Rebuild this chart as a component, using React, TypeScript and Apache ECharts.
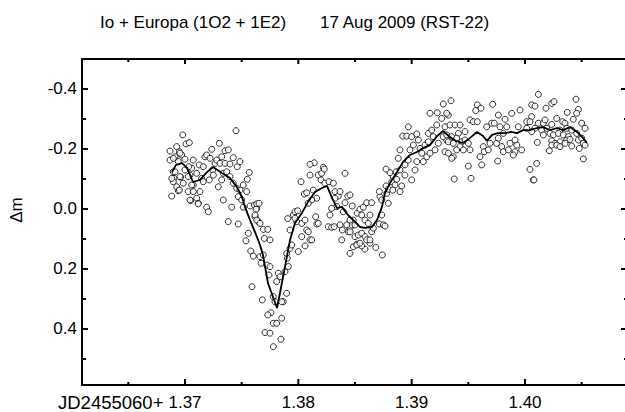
import React, { useEffect, useRef } from "react";
import * as echarts from "echarts";

// ---- Data ----
const titleLeft = "Io + Europa (1O2 + 1E2)";
const titleRight = "17 Aug 2009 (RST-22)";
const xPrefix = "JD2455060+";
const yName = "\u0394m";

const X_MIN = 1.360912;
const X_MAX = 1.408912;
const Y_MIN = -0.5;
const Y_MAX = 0.5867;

const xMajorTicks = [1.37, 1.38, 1.39, 1.4];
const xMinorTicks = [1.365, 1.375, 1.385, 1.395, 1.405];
const yMajorTicks = [-0.4, -0.2, 0.0, 0.2, 0.4];
const yMinorTicks = [-0.3, -0.1, 0.1, 0.3, 0.5];

const obsEarly: [number, number][] = [
  [1.3745, -0.261], [1.3698, -0.247], [1.36868, -0.193], [1.36927, -0.208], [1.37009, -0.217], [1.37038, -0.221],
  [1.3695, -0.191], [1.36912, -0.174], [1.36971, -0.18], [1.37, -0.166], [1.36941, -0.158], [1.36897, -0.124],
  [1.36903, -0.102], [1.36897, -0.091], [1.36927, -0.074], [1.36941, -0.061], [1.36883, -0.043], [1.36985, -0.086],
  [1.37029, -0.058], [1.37073, -0.058], [1.3705, -0.028], [1.37103, -0.036], [1.37132, -0.058], [1.37117, -0.019],
  [1.37191, -0.006], [1.37206, 0.009], [1.36962, -0.106], [1.37, -0.13], [1.37044, -0.113], [1.37059, -0.136],
  [1.37103, -0.119], [1.37126, -0.147], [1.37147, -0.102], [1.37161, -0.091], [1.37073, -0.08], [1.37176, -0.174],
  [1.37191, -0.18], [1.37221, -0.169], [1.37236, -0.199], [1.37265, -0.152], [1.37244, -0.13], [1.3728, -0.163],
  [1.37303, -0.219], [1.37324, -0.174], [1.37353, -0.194], [1.37382, -0.197], [1.37309, -0.152], [1.37353, -0.152],
  [1.37397, -0.15], [1.37426, -0.171], [1.37461, -0.141], [1.37485, -0.158], [1.37338, -0.119], [1.37368, -0.124],
  [1.37397, -0.108], [1.37324, -0.097], [1.37294, -0.074], [1.37338, -0.03], [1.37412, -0.006], [1.37382, 0.042],
  [1.37426, -0.086], [1.37456, -0.069], [1.37485, -0.063], [1.3747, -0.041], [1.37514, -0.08], [1.3755, -0.099],
  [1.37567, -0.122], [1.37544, -0.058], [1.375, -0.03], [1.37514, -0.006], [1.37574, -0.01], [1.37612, -0.013],
  [1.37633, -0.002], [1.37618, 0.026], [1.37647, 0.042], [1.37559, 0.081], [1.37538, 0.106], [1.3758, 0.14],
  [1.37603, 0.157], [1.37591, 0.259], [1.3747, 0.05], [1.3725, -0.113], [1.37214, -0.097], [1.37161, -0.141],
  [1.37073, -0.163], [1.37033, -0.141], [1.36868, -0.163], [1.36897, -0.169], [1.36883, -0.102], [1.3695, -0.063],
  [1.36912, -0.124], [1.36956, -0.108], [1.37029, -0.108], [1.37059, -0.08], [1.37044, -0.03], [1.37117, -0.017],
  [1.36956, -0.186],
];

const obsDip: [number, number][] = [
  [1.37633, -0.017], [1.37653, -0.019], [1.37627, 0.001], [1.37618, 0.02], [1.37633, 0.037], [1.37662, 0.048],
  [1.37691, 0.068], [1.3773, 0.068], [1.377, 0.098], [1.3775, 0.103], [1.37662, 0.159], [1.37671, 0.181],
  [1.37691, 0.153], [1.37721, 0.187], [1.3775, 0.192], [1.37741, 0.22], [1.37823, 0.214], [1.37838, 0.226],
  [1.37809, 0.242], [1.37682, 0.303], [1.37779, 0.292], [1.37794, 0.309], [1.37759, 0.346], [1.3773, 0.353],
  [1.37779, 0.381], [1.37809, 0.381], [1.37853, 0.364], [1.37706, 0.412], [1.3775, 0.414], [1.37847, 0.434],
  [1.37779, 0.459], [1.37867, 0.309], [1.37897, 0.281], [1.37853, 0.309], [1.37882, 0.209], [1.37912, 0.192],
  [1.37903, 0.164], [1.37897, 0.148], [1.37927, 0.131], [1.37942, 0.12], [1.37927, 0.07], [1.37906, 0.032],
  [1.37956, 0.02], [1.37971, 0.009], [1.37994, 0.006], [1.37986, 0.042], [1.3803, 0.048], [1.38059, 0.037],
  [1.38074, 0.07], [1.38088, 0.076], [1.38103, 0.103], [1.3803, 0.092], [1.38, 0.142], [1.38059, 0.123],
  [1.38118, 0.103], [1.38024, -0.091], [1.38053, -0.05], [1.38074, -0.054], [1.38103, -0.113], [1.38141, -0.154],
  [1.38103, -0.149], [1.38176, -0.113], [1.38206, -0.119], [1.3822, -0.139], [1.38229, -0.133], [1.382, -0.097],
  [1.38235, -0.086], [1.38271, -0.091], [1.38309, -0.086], [1.38324, -0.058], [1.38353, -0.043], [1.38368, -0.058],
  [1.38324, -0.036], [1.38339, -0.008], [1.38294, -0.002], [1.38279, 0.02], [1.38264, 0.059], [1.38294, 0.061],
  [1.38317, 0.059], [1.38368, 0.053], [1.38388, 0.07], [1.38383, 0.103], [1.38441, 0.076], [1.38456, 0.064],
  [1.38471, 0.053], [1.38485, 0.037], [1.38456, 0.148], [1.38485, 0.126], [1.38412, -0.119], [1.38436, -0.043],
  [1.38412, -0.021], [1.38397, 0.009], [1.38476, -0.01], [1.38427, 0.053], [1.38153, 0.026], [1.38162, 0.05],
  [1.38176, 0.048], [1.38132, -0.063], [1.38162, -0.036], [1.38118, -0.03], [1.38088, -0.019], [1.37971, 0.031],
];

const obsRise: [number, number][] = [
  [1.3852, 0.117], [1.38588, 0.134], [1.38632, 0.114], [1.38683, 0.128], [1.38741, 0.153], [1.38559, 0.123],
  [1.38456, -0.047], [1.38456, 0.037], [1.38456, 0.076], [1.385, 0.053], [1.3852, 0.014], [1.38544, 0.001],
  [1.38573, -0.006], [1.38603, -0.021], [1.38647, -0.021], [1.38559, 0.02], [1.38588, 0.037], [1.38632, 0.02],
  [1.38617, 0.048], [1.385, 0.092], [1.38529, 0.087], [1.38559, 0.081], [1.38588, 0.092], [1.38603, 0.103],
  [1.38515, 0.12], [1.38544, 0.114], [1.38632, 0.103], [1.38647, 0.076], [1.38662, 0.064], [1.38715, 0.05],
  [1.3875, 0.053], [1.38765, 0.057], [1.38736, 0.02], [1.38721, -0.041], [1.38736, -0.03], [1.38715, -0.058],
  [1.3878, -0.052], [1.38794, -0.019], [1.38774, -0.077], [1.38794, -0.066], [1.38824, -0.091], [1.38838, -0.108],
  [1.38868, -0.099], [1.38853, -0.08], [1.38833, -0.063], [1.38897, -0.058], [1.38912, -0.077], [1.38809, -0.121],
  [1.38774, -0.133], [1.38862, -0.124], [1.38897, -0.13], [1.38882, -0.169], [1.38897, -0.197], [1.38941, -0.147],
  [1.38941, -0.113], [1.3897, -0.163], [1.38985, -0.197], [1.3897, -0.274], [1.38921, -0.243], [1.38956, -0.243],
  [1.39, -0.241], [1.39045, -0.25], [1.39059, -0.23], [1.39015, -0.213], [1.39074, -0.202], [1.39089, -0.186],
  [1.39118, -0.213], [1.39147, -0.224], [1.39147, -0.252], [1.39177, -0.263], [1.39221, -0.28], [1.39265, -0.302],
  [1.39323, -0.313], [1.39162, -0.319], [1.39226, -0.321], [1.39279, -0.35], [1.39206, -0.197], [1.39235, -0.219],
  [1.39294, -0.191], [1.39103, -0.158], [1.39133, -0.174], [1.39162, -0.186], [1.39045, -0.158], [1.3903, -0.13],
  [1.39, -0.097], [1.39309, -0.23], [1.39279, -0.241], [1.39191, -0.241],
];

const obsPlateau: [number, number][] = [
  [1.39347, -0.361], [1.39309, -0.319], [1.39294, -0.274], [1.39338, -0.28], [1.39382, -0.28], [1.39427, -0.28],
  [1.39412, -0.252], [1.39471, -0.258], [1.39515, -0.297], [1.39565, -0.328], [1.39579, -0.347], [1.39612, -0.336],
  [1.39715, -0.349], [1.39544, -0.291], [1.39579, -0.291], [1.39662, -0.274], [1.39706, -0.286], [1.39729, -0.286],
  [1.39765, -0.313], [1.3978, -0.274], [1.39824, -0.299], [1.39883, -0.319], [1.39956, -0.33], [1.39941, -0.274],
  [1.40015, -0.291], [1.40059, -0.347], [1.39309, -0.247], [1.39323, -0.224], [1.39353, -0.241], [1.39367, -0.219],
  [1.39397, -0.236], [1.39442, -0.224], [1.39471, -0.23], [1.395, -0.219], [1.39427, -0.208], [1.39323, -0.186],
  [1.39367, -0.174], [1.39353, -0.169], [1.39397, -0.197], [1.39456, -0.197], [1.39515, -0.197], [1.395, -0.143],
  [1.39376, -0.1], [1.39524, -0.102], [1.39603, -0.174], [1.39618, -0.147], [1.39632, -0.208], [1.39641, -0.191],
  [1.39676, -0.197], [1.39691, -0.219], [1.3975, -0.219], [1.39765, -0.236], [1.39795, -0.208], [1.39809, -0.191],
  [1.39853, -0.197], [1.39868, -0.219], [1.39912, -0.191], [1.39927, -0.213], [1.39971, -0.197], [1.39897, -0.18],
  [1.39912, -0.23], [1.39759, -0.16], [1.39809, -0.252], [1.39839, -0.274], [1.40015, -0.269], [1.40044, -0.132],
  [1.40073, -0.097], [1.40118, -0.382], [1.40088, -0.343], [1.40185, -0.336], [1.40236, -0.352], [1.40256, -0.358],
  [1.4045, -0.366], [1.40471, -0.332], [1.40456, -0.319], [1.40373, -0.322], [1.40059, -0.308], [1.40044, -0.291],
  [1.40118, -0.286], [1.40162, -0.286], [1.40177, -0.297], [1.4028, -0.302], [1.40236, -0.282], [1.40333, -0.291],
  [1.40353, -0.286], [1.40426, -0.299], [1.405, -0.286], [1.4053, -0.269], [1.40088, -0.269], [1.40059, -0.258],
  [1.40147, -0.263], [1.40192, -0.269], [1.40309, -0.263], [1.40368, -0.269], [1.40412, -0.263], [1.40456, -0.252],
  [1.40162, -0.247], [1.40221, -0.252], [1.4025, -0.247], [1.40294, -0.252], [1.40338, -0.247], [1.40382, -0.241],
  [1.40471, -0.23], [1.405, -0.236], [1.40515, -0.219], [1.4053, -0.213], [1.40109, -0.222], [1.40236, -0.227],
  [1.40265, -0.219], [1.40309, -0.224], [1.40368, -0.23], [1.40397, -0.232], [1.40236, -0.213], [1.4028, -0.213],
  [1.40309, -0.208], [1.40353, -0.219], [1.40412, -0.21], [1.40479, -0.202], [1.40215, -0.194], [1.40515, -0.167],
  [1.40103, -0.152], [1.4008, -0.097],
];

const smoothLine: [number, number][] = [
  [1.36885, -0.123], [1.36921, -0.147], [1.36974, -0.153], [1.37018, -0.137], [1.37071, -0.09], [1.37132, -0.097],
  [1.37194, -0.123], [1.37247, -0.14], [1.37326, -0.12], [1.37397, -0.103], [1.37459, -0.073], [1.37503, -0.04],
  [1.37529, -0.007], [1.37574, 0.037], [1.37618, 0.077], [1.37662, 0.12], [1.37688, 0.153], [1.37732, 0.247],
  [1.37776, 0.293], [1.37812, 0.33], [1.37838, 0.28], [1.37882, 0.193], [1.37927, 0.103], [1.37971, 0.047],
  [1.38032, 0.013], [1.38085, -0.023], [1.38147, -0.057], [1.38209, -0.07], [1.38253, -0.077], [1.38297, -0.037],
  [1.38341, -0.003], [1.38385, -0.007], [1.38438, 0.02], [1.385, 0.043], [1.38544, 0.06], [1.38588, 0.063],
  [1.3865, 0.06], [1.38694, 0.037], [1.38738, -0.007], [1.38765, -0.053], [1.38809, -0.087], [1.38871, -0.123],
  [1.38924, -0.157], [1.38985, -0.18], [1.39047, -0.19], [1.391, -0.203], [1.39162, -0.213], [1.39224, -0.243],
  [1.39277, -0.26], [1.39338, -0.24], [1.39391, -0.227], [1.39453, -0.22], [1.39515, -0.237], [1.39577, -0.257],
  [1.3963, -0.243], [1.39665, -0.227], [1.39709, -0.247], [1.39762, -0.253], [1.39824, -0.253], [1.39877, -0.257],
  [1.3993, -0.253], [1.39983, -0.263], [1.40044, -0.263], [1.40106, -0.27], [1.40159, -0.273], [1.40221, -0.263],
  [1.40282, -0.27], [1.40335, -0.263], [1.40397, -0.273], [1.40459, -0.257], [1.40512, -0.237], [1.40547, -0.22],
];

const FONT = "'Liberation Sans', Arial, Helvetica, sans-serif";
const AXIS_W = 2;
const TICK = { xBottomMajor: 6, xBottomMinor: 3, xTopMajor: 5, xTopMinor: 3, yLeftMajor: 6, yLeftMinor: 4, yRightMajor: 5, yRightMinor: 2 };

// tick series data: [value, isMajor]
const xTickData = [...xMajorTicks.map((v) => [v, 1]), ...xMinorTicks.map((v) => [v, 0])];
const yTickData = [...yMajorTicks.map((v) => [1, v]), ...yMinorTicks.map((v) => [0, v])];

export default function App() {
  const ref = useRef<HTMLDivElement>(null);

  useEffect(() => {
    if (!ref.current) return;
    const chart = echarts.init(ref.current, undefined, { renderer: "svg" });
    const symbolStyle = { color: "#fff", borderColor: "#000", borderWidth: 1 };
    const scatter = (data: [number, number][]) => ({
      type: "scatter",
      data,
      symbol: "circle",
      symbolSize: 6,
      itemStyle: symbolStyle,
      xAxisIndex: 0,
      yAxisIndex: 0,
      silent: true,
    });
    const tickStyle = { stroke: "#000", lineWidth: AXIS_W };
    chart.setOption({
      animation: false,
      backgroundColor: "#fff",
      grid: { left: 82, top: 59, width: 544, height: 326 },
      xAxis: [
        {
          type: "value",
          position: "bottom",
          min: X_MIN,
          max: X_MAX,
          splitLine: { show: false },
          axisLine: { show: true, onZero: false, lineStyle: { color: "#000", width: AXIS_W } },
          axisTick: { show: false },
          axisLabel: {
            show: true,
            customValues: xMajorTicks,
            margin: 9,
            color: "#000",
            fontSize: 17,
            fontFamily: FONT,
            formatter: (v: number) => v.toFixed(2),
          },
        },
        {
          type: "value",
          position: "top",
          min: X_MIN,
          max: X_MAX,
          splitLine: { show: false },
          axisLine: { show: true, onZero: false, lineStyle: { color: "#000", width: AXIS_W } },
          axisTick: { show: false },
          axisLabel: { show: false },
        },
      ],
      yAxis: [
        {
          type: "value",
          position: "left",
          inverse: true,
          min: Y_MIN,
          max: Y_MAX,
          splitLine: { show: false },
          axisLine: { show: true, onZero: false, lineStyle: { color: "#000", width: AXIS_W } },
          axisTick: { show: false },
          axisLabel: {
            show: true,
            customValues: yMajorTicks,
            margin: 5,
            color: "#000",
            fontSize: 17,
            fontFamily: FONT,
            formatter: (v: number) => v.toFixed(1),
          },
        },
      ],
      series: [
        scatter(obsEarly),
        scatter(obsDip),
        scatter(obsRise),
        scatter(obsPlateau),
        {
          type: "line",
          data: smoothLine,
          xAxisIndex: 0,
          yAxisIndex: 0,
          showSymbol: false,
          symbol: "none",
          lineStyle: { color: "#000", width: 1.8 },
          silent: true,
          z: 5,
        },
        {
          type: "custom",
          data: xTickData,
          silent: true,
          clip: false,
          z: 6,
          renderItem: (_p: any, api: any) => {
            const v = api.value(0);
            const major = api.value(1) === 1;
            const b = api.coord([v, Y_MAX]);
            const t = api.coord([v, Y_MIN]);
            const lb = major ? TICK.xBottomMajor : TICK.xBottomMinor;
            const lt = major ? TICK.xTopMajor : TICK.xTopMinor;
            return {
              type: "group",
              children: [
                { type: "line", shape: { x1: b[0], y1: b[1], x2: b[0], y2: b[1] - lb }, style: tickStyle },
                { type: "line", shape: { x1: t[0], y1: t[1], x2: t[0], y2: t[1] + lt }, style: tickStyle },
              ],
            };
          },
        },
        {
          type: "custom",
          data: yTickData,
          silent: true,
          clip: false,
          z: 6,
          renderItem: (_p: any, api: any) => {
            const major = api.value(0) === 1;
            const v = api.value(1);
            const l = api.coord([X_MIN, v]);
            const r = api.coord([X_MAX, v]);
            const ll = major ? TICK.yLeftMajor : TICK.yLeftMinor;
            const lr = major ? TICK.yRightMajor : TICK.yRightMinor;
            return {
              type: "group",
              children: [
                { type: "line", shape: { x1: l[0], y1: l[1], x2: l[0] + ll, y2: l[1] }, style: tickStyle },
                { type: "line", shape: { x1: r[0], y1: r[1], x2: r[0] - lr, y2: r[1] }, style: tickStyle },
              ],
            };
          },
        },
      ],
      graphic: [
        {
          type: "text",
          left: 100,
          top: 14,
          style: { text: titleLeft, fontSize: 17, fontFamily: FONT, fill: "#000" },
        },
        {
          type: "text",
          left: 320,
          top: 14,
          style: { text: titleRight, fontSize: 17, fontFamily: FONT, fill: "#000" },
        },
        {
          type: "text",
          x: 16,
          y: 210,
          rotation: Math.PI / 2,
          style: {
            text: yName,
            fontSize: 17,
            fontFamily: FONT,
            fill: "#000",
            align: "center",
            verticalAlign: "middle",
          },
        },
        {
          type: "text",
          left: 58,
          top: 393,
          style: { text: xPrefix, fontSize: 18.5, fontFamily: FONT, fill: "#000" },
        },
      ],
    });
    return () => chart.dispose();
  }, []);

  return (
    <div style={{ position: "fixed", left: 0, top: 0, width: 625, height: 412, overflow: "hidden", background: "#fff" }}>
      <div ref={ref} style={{ width: 630, height: 412 }} />
    </div>
  );
}
